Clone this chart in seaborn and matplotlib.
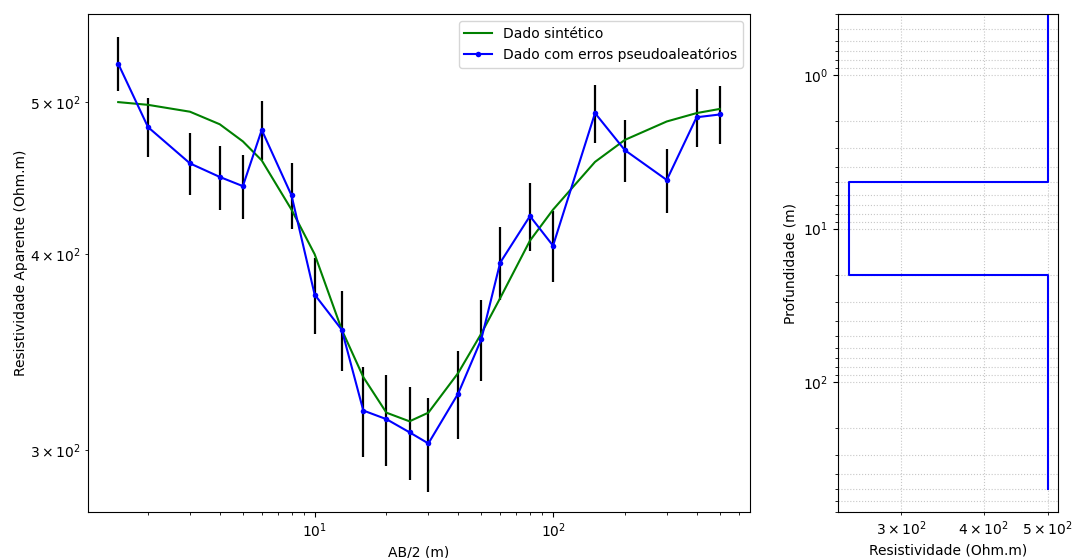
import numpy as np
import pandas as pd
import matplotlib
matplotlib.use("Agg")
import matplotlib.pyplot as plt
import seaborn as sns

# Curva de sondagem
ab2 = [1.5, 2, 3, 4, 5, 6, 8, 10, 13, 16, 20, 25, 30, 40, 50, 60, 80, 100,
       150, 200, 300, 400, 500]
rho_sint = [500, 498, 493, 484, 472, 459, 427, 400, 358, 334, 317, 313, 317,
            336, 356, 375, 408, 427, 458, 473, 486, 492, 495]
rho_ruido = [529, 482, 457, 448, 442, 480, 436, 377, 358, 318, 314, 308, 303,
             326, 353, 395, 423, 405, 492, 466, 446, 489, 491]
erro = [21] * len(ab2)

# Modelo de camadas
rho_camadas = [500, 250, 500]
prof_interfaces = [5, 20]
prof_topo = 0.1
prof_base = 500

df_sint = pd.DataFrame({"ab2": ab2, "rho": rho_sint})
df_ruido = pd.DataFrame({"ab2": ab2, "rho": rho_ruido})

# perfil em degraus do modelo
limites = [prof_topo] + prof_interfaces + [prof_base]
px, py = [], []
for i, r in enumerate(rho_camadas):
    px += [r, r]
    py += [limites[i], limites[i + 1]]
df_modelo = pd.DataFrame({"rho": px, "prof": py})

fig = plt.figure(figsize=(10.74, 5.58), dpi=100)
ax1 = fig.add_axes([0.0819, 0.0824, 0.6164, 0.8925])
ax2 = fig.add_axes([0.7803, 0.0824, 0.2048, 0.8925])

ax1.set_xscale("log")
ax1.set_yscale("log")
ax1.errorbar(ab2, rho_ruido, yerr=erro, fmt="none", ecolor="k", elinewidth=1.6, zorder=1)
sns.lineplot(data=df_sint, x="ab2", y="rho", ax=ax1, color="green", lw=1.5,
             sort=False, estimator=None, label="Dado sintético", zorder=2)
sns.lineplot(data=df_ruido, x="ab2", y="rho", ax=ax1, color="blue", lw=1.5,
             marker="o", markersize=4, markeredgewidth=0, sort=False, estimator=None,
             label="Dado com erros pseudoaleatórios", zorder=3)
ax1.set_xlim(1.12, 670)
ax1.set_ylim(274, 569)
ax1.set_xlabel("AB/2 (m)")
ax1.set_ylabel("Resistividade Aparente (Ohm.m)", labelpad=1)
ax1.legend(loc="upper right")

ax2.set_xscale("log")
ax2.set_yscale("log")
sns.lineplot(data=df_modelo, x="rho", y="prof", ax=ax2, color="blue", lw=1.5,
             sort=False, estimator=None)
ax2.set_xlim(241, 518)
ax2.set_ylim(703, 0.4)
ax2.grid(True, which="both", ls=":", color="0.78", lw=0.8)
ax2.set_xlabel("Resistividade (Ohm.m)")
ax2.set_ylabel("Profundidade (m)")

fig.savefig("out.png", dpi=100)
